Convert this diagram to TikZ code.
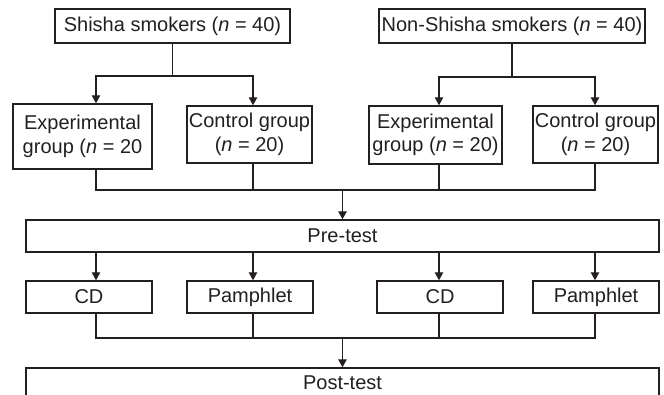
\documentclass[tikz,border=0pt]{standalone}
\usepackage{fontspec}
\setmainfont{Liberation Sans}
\usetikzlibrary{arrows.meta}
\definecolor{ink}{HTML}{231F20}
\begin{document}
\begin{tikzpicture}[x=1pt,y=-1pt,
  box/.style={draw=ink,line width=1.5pt,inner sep=0pt,align=center,text=ink,font=\fontsize{20}{23.5}\selectfont},
  conn/.style={draw=ink,line width=1.3pt},
  arr/.style={conn,-{Triangle[length=8pt,width=8.5pt]}}]
\useasboundingbox (0,0) rectangle (664,394);
% column coordinates
\coordinate (c1) at (96,0);
\coordinate (c2) at (253,0);
\coordinate (c3) at (439,0);
\coordinate (c4) at (595,0);
% top boxes
\node[box,minimum width=235pt,minimum height=34pt] (shisha) at (172.5,26) {Shisha smokers (\textit{n} = 40)};
\node[box,minimum width=266pt,minimum height=34pt] (nonshisha) at (512,26) {Non-Shisha smokers (\textit{n} = 40)};
% groups
\node[box,minimum width=139pt,minimum height=65pt] (exp1) at (82.5,136.5) {Experimental\\group (\textit{n} = 20};
\node[box,minimum width=125pt,minimum height=57pt] (ctrl1) at (249.5,134.5) {Control group\\(\textit{n} = 20)};
\node[box,minimum width=133pt,minimum height=58pt] (exp2) at (435.5,135) {Experimental\\group (\textit{n} = 20)};
\node[box,minimum width=125pt,minimum height=57pt] (ctrl2) at (595.5,134.5) {Control group\\(\textit{n} = 20)};
% pre-test
\node[box,minimum width=633pt,minimum height=32pt] (pre) at (342.5,236) {Pre-test};
% interventions
\node[box,minimum width=126pt,minimum height=32pt] (cd1) at (89,297) {CD};
\node[box,minimum width=126pt,minimum height=32pt] (pam1) at (250,297) {Pamphlet};
\node[box,minimum width=126pt,minimum height=32pt] (cd2) at (440,297) {CD};
\node[box,minimum width=126pt,minimum height=32pt] (pam2) at (596,297) {Pamphlet};
% post-test
\node[box,minimum width=633pt,minimum height=30pt] (post) at (342.5,383) {Post-test};
% junctions
\coordinate (j1) at (172.5,76);
\coordinate (j2) at (512,77);
\coordinate (j3) at (342.5,190);
\coordinate (j4) at (342.5,338);
% top splits
\draw[conn] (shisha.south) -- (j1);
\draw[arr] (j1) -| (exp1.north -| c1);
\draw[arr] (j1) -| (ctrl1.north -| c2);
\draw[conn] (nonshisha.south) -- (j2);
\draw[arr] (j2) -| (exp2.north -| c3);
\draw[arr] (j2) -| (ctrl2.north -| c4);
% merge to pre-test
\draw[conn] (exp1.south -| c1) |- (j3);
\draw[conn] (ctrl1.south -| c2) -- (j3 -| c2);
\draw[conn] (exp2.south -| c3) -- (j3 -| c3);
\draw[conn] (ctrl2.south -| c4) |- (j3);
\draw[arr] (j3) -- (pre.north);
% pre-test to interventions
\draw[arr] (pre.south -| c1) -- (cd1.north -| c1);
\draw[arr] (pre.south -| c2) -- (pam1.north -| c2);
\draw[arr] (pre.south -| c3) -- (cd2.north -| c3);
\draw[arr] (pre.south -| c4) -- (pam2.north -| c4);
% merge to post-test
\draw[conn] (cd1.south -| c1) |- (j4);
\draw[conn] (pam1.south -| c2) -- (j4 -| c2);
\draw[conn] (cd2.south -| c3) -- (j4 -| c3);
\draw[conn] (pam2.south -| c4) |- (j4);
\draw[arr] (j4) -- (post.north);
\end{tikzpicture}
\end{document}
